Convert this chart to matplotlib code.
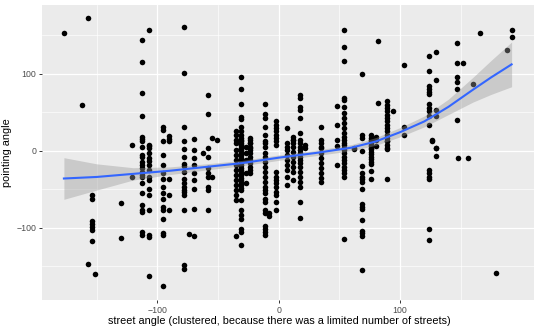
import matplotlib
matplotlib.use("Agg")
import matplotlib.pyplot as plt
import numpy as np

# street angle clusters and the pointing angles recorded at each one
street_angle = [-177, -162, -157, -154, -151, -130, -121, -113, -107, -95, -90,
                -78, -74, -70, -62, -58, -55, -51, -35, -31, -27, -24, -11, -8,
                -2, 7, 12, 18, 22, 35, 48, 54, 62, 69, 76, 80, 82, 89, 94, 103,
                124, 126, 130, 147, 148, 152, 156, 160, 166, 179, 188, 192]
pointing_angle = [
    [153],
    [59],
    [172, -147],
    [-57, -63, -91, -95, -99, -103, -117],
    [-160],
    [-68, -113],
    [7, -34],
    [144, 115, 75, 45, 18, 15, 12, 5, -6, -8, -14, -19, -23, -27, -32, -34,
     -42, -55, -70, -77, -79, -105, -109],
    [156, 6, 3, 7, -3, -10, -13, -19, -25, -34, -38, -49, -58, -77, -109,
     -112, -163],
    [31, 27, 12, -6, -19, -29, -37, -47, -55, -62, -73, -77, -89, -107, -109,
     -176],
    [19, 15, 12, -37, -58, -77],
    [161, 101, 31, 12, 2, -8, -17, -20, -27, -37, -42, -47, -51, -54, -58,
     -77, -148, -153],
    [-108],
    [15, 1, -10, -19, -29, -38, -50, -75, -111],
    [-3],
    [72, 47, 3, -8, -23, -29, -34, -47, -51, -77],
    [16, -34],
    [14],
    [25, 20, 14, 10, 1, -6, -12, -19, -25, -32, -38, -45, -51, -58, -64, -111],
    [95, 80, 61, 44, 41, 31, 26, 20, 16, 12, 7, 3, 14, 10, 7, 4, 1, -3, -6,
     -9, -12, -16, -19, -22, -25, -29, -32, -35, -38, -42, -45, -48, -51,
     -64, -77, -83, -88, -102, -105, -122],
    [5, -3, -12, -29, -42],
    [16, 10, 3, 14, 10, 5, 1, -3, -8, -12, -16, -21, -25, -29],
    [60, 48, 42, 31, 20, 10, 12, 5, -3, -8, -14, -21, -27, -34, -40, -47,
     -51, -55, -62, -66, -77, -81, -98, -102, -106, -109],
    [-81, -85],
    [38, 33, 29, 25, 20, 16, 12, 7, -27, -34, -38, -42, -47, -53, -58, -66,
     -77],
    [30, 10, 5, 1, -6, -12, -19, -25, -34, -45],
    [18, 14, 10, 5, 14, -1, -8, -14, -21, -27, -38],
    [72, 69, 57, 53, 42, 23, 10, 5, 14, 1, -3, -8, -12, -16, -21, -27, -34,
     -40, -47, -66, -87],
    [7, 3],
    [31, 14, 5, 10, 3, -3, -10, -16, -23, -29, -35, -40],
    [58, 33, 14, 6, -19],
    [157, 135, 116, 68, 66, 57, 49, 42, 36, 29, 23, 18, 14, 7, 3, 10, 1, -3,
     -8, -12, -16, -21, -25, -29, -34, -114],
    [3, 2],
    [100, 20, 16, 0, -20, -29, -34, -37, -40, -50, -69, -73, -76, -90, -104,
     -107, -110, -155],
    [20, 16, 12, 7, 3, 14, 10, 6, 2, -1, -4, -8, -11, -14, -17, -26, -36],
    [18, 14, 6],
    [142, 62],
    [64, 59, 55, 51, 46, 42, 38, 33, 29, 25, 20, 16, 12, 7, 3, 13, 2, -37],
    [52],
    [111, 31, 21],
    [123, 104, 84, 80, 76, 73, 60, 55, 51, 45, 34, -25, -29, -34, -37, -101,
     -116],
    [14, 13],
    [128, 92, 53, 45, 3, 3, -7],
    [140, 114, 95, 89, 80, 40],
    [-10],
    [114],
    [-9],
    [87],
    [153],
    [-159],
    [131],
    [157, 147],
]

# loess smooth with its standard error band
fit_x = [-177, -150, -120, -90, -60, -30, 0, 30, 60, 80, 100, 120, 140, 160,
         175, 192]
fit_y = [-36, -34, -30, -26, -21, -16, -9, -3, 4, 12, 24, 38, 57, 79, 95, 112]
fit_se = [27, 17, 8, 5, 4, 3.5, 3.5, 3.5, 4, 5, 6, 7, 10, 16, 22, 29]

xs = np.concatenate([[sx] * len(ys) for sx, ys in zip(street_angle, pointing_angle)])
ys = np.concatenate(pointing_angle)
fit_y = np.array(fit_y, dtype=float)
fit_se = np.array(fit_se, dtype=float)

plt.rcParams["font.family"] = ["Liberation Sans", "DejaVu Sans"]

fig = plt.figure(figsize=(5.4, 3.33), dpi=100)
ax = fig.add_axes([0.077, 0.099, 0.912, 0.886])
ax.set_facecolor("#EBEBEB")
for s in ax.spines.values():
    s.set_visible(False)

ax.scatter(xs, ys, s=16, color="black", linewidths=0, zorder=3)
ax.fill_between(fit_x, fit_y - fit_se, fit_y + fit_se, color="#999999",
                alpha=0.4, linewidth=0, zorder=4)
ax.plot(fit_x, fit_y, color="#3366FF", linewidth=1.5, zorder=5)

ax.set_xlim(-195.4, 210.5)
ax.set_ylim(-193.6, 189)
ax.set_xticks([-100, 0, 100])
ax.set_yticks([-100, 0, 100])
ax.set_xticks([-150, -50, 50, 150], minor=True)
ax.set_yticks([-150, -50, 50, 150], minor=True)
ax.grid(True, which="major", color="white", linewidth=0.9, zorder=0)
ax.grid(True, which="minor", color="white", linewidth=0.45, zorder=0)
ax.set_axisbelow(True)
ax.tick_params(which="major", length=2.5, width=0.7, color="#333333",
               labelsize=6.3, labelcolor="#4D4D4D", pad=1.5)
ax.tick_params(which="minor", length=0)

ax.set_xlabel("street angle (clustered, because there was a limited number of streets)",
              fontsize=7.8)
ax.set_ylabel("pointing angle", fontsize=7.8)
ax.xaxis.set_label_coords(0.482, -0.055)
ax.yaxis.set_label_coords(-0.06, 0.5)

fig.savefig("out.png", dpi=100)
